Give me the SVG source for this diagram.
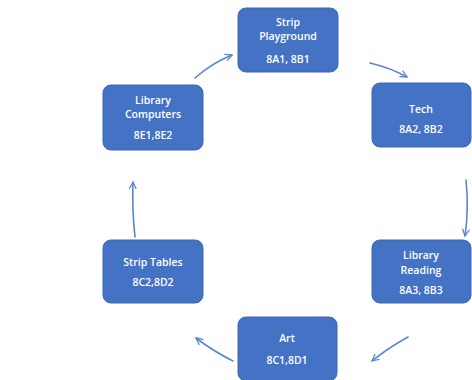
<svg xmlns="http://www.w3.org/2000/svg" width="472" height="380" viewBox="0 0 472 380">
<defs>
<style>
.box{fill:#4472C4;stroke:#3a66b5;stroke-width:1}
.t{fill:#ffffff;font-family:"Open Sans","Liberation Sans",sans-serif;font-size:10.5px;font-weight:600;text-anchor:middle;dominant-baseline:central}
.c{fill:none;stroke:#5a86d2;stroke-width:1.6;stroke-linecap:round}
</style>
<marker id="ah" viewBox="0 0 10 10" refX="9" refY="5" markerWidth="8" markerHeight="8" orient="auto" markerUnits="userSpaceOnUse">
<path d="M1,1 L9,5 L1,9" fill="none" stroke="#5a86d2" stroke-width="1.6" stroke-linecap="round" stroke-linejoin="round"/>
</marker>
</defs>
<rect width="472" height="380" fill="#ffffff"/>
<g id="connectors">
<path class="c" d="M195,78 Q212,63 232,55" marker-end="url(#ah)"/>
<path class="c" d="M370,63 Q391,68 407,77" marker-end="url(#ah)"/>
<path class="c" d="M466,180 Q469,208 465,236" marker-end="url(#ah)"/>
<path class="c" d="M408,337 Q388,348 372,361" marker-end="url(#ah)"/>
<path class="c" d="M233,361 Q213,351 196,338" marker-end="url(#ah)"/>
<path class="c" d="M135,237 Q132,210 133,182" marker-end="url(#ah)"/>
</g>
<g id="strip-playground">
<rect class="box" x="238" y="8" width="100" height="64" rx="8"/>
<text class="t" x="288" y="22">Strip</text>
<text class="t" x="288" y="36">Playground</text>
<text class="t" x="288" y="59">8A1, 8B1</text>
</g>
<g id="tech">
<rect class="box" x="372" y="83" width="99" height="64" rx="8"/>
<text class="t" x="421" y="109">Tech</text>
<text class="t" x="421" y="129">8A2, 8B2</text>
</g>
<g id="library-reading">
<rect class="box" x="372" y="240" width="99" height="63" rx="8"/>
<text class="t" x="421" y="255">Library</text>
<text class="t" x="421" y="270">Reading</text>
<text class="t" x="421" y="290">8A3, 8B3</text>
</g>
<g id="art">
<rect class="box" x="238" y="317" width="99" height="64" rx="8"/>
<text class="t" x="287" y="338">Art</text>
<text class="t" x="287" y="360">8C1,8D1</text>
</g>
<g id="strip-tables">
<rect class="box" x="103" y="240" width="100" height="63" rx="8"/>
<text class="t" x="153" y="262">Strip Tables</text>
<text class="t" x="153" y="282">8C2,8D2</text>
</g>
<g id="library-computers">
<rect class="box" x="103" y="85" width="100" height="65" rx="8"/>
<text class="t" x="153" y="100">Library</text>
<text class="t" x="153" y="114">Computers</text>
<text class="t" x="153" y="135">8E1,8E2</text>
</g>
</svg>
